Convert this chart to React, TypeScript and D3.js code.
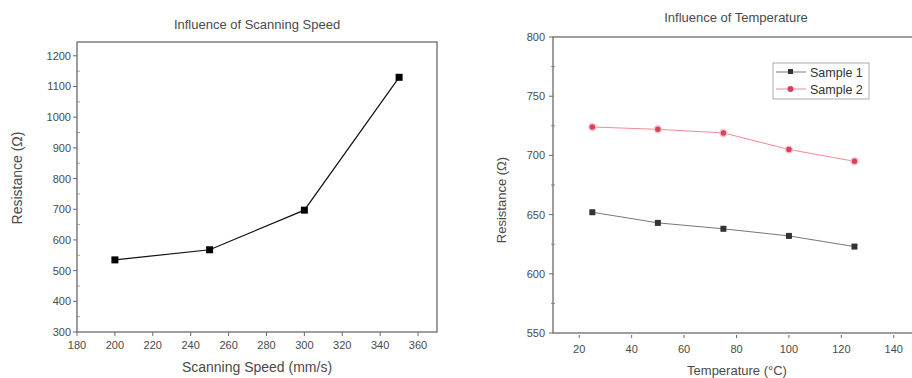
import React from "react";
import * as d3 from "d3";

// left panel: scanning speed
const speeds = [200, 250, 300, 350];
const speedResistance = [535, 568, 697, 1130];
const speedXTicks = [180, 200, 220, 240, 260, 280, 300, 320, 340, 360];
const speedYTicks = [300, 400, 500, 600, 700, 800, 900, 1000, 1100, 1200];

// right panel: temperature
const temps = [25, 50, 75, 100, 125];
const sample1 = [652, 643, 638, 632, 623];
const sample2 = [724, 722, 719, 705, 695];
const tempXTicks = [20, 40, 60, 80, 100, 120, 140];
const tempYTicks = [550, 600, 650, 700, 750, 800];
const tempYMinor = [575, 625, 675, 725, 775];
const seriesNames = ["Sample 1", "Sample 2"];

const font = "'Liberation Sans', Arial, sans-serif";
const axisColor = "#6a6a6a";
const textColor = "#4a4a4a";

const SpeedPanel = () => {
  const x = d3.scaleLinear().domain([180, 370]).range([77, 437]);
  const y = d3.scaleLinear().domain([300, 1245]).range([332, 42]);
  const line = d3
    .line<number>()
    .x((d, i) => x(speeds[i]))
    .y((d) => y(d));

  return (
    <g>
      <text x={257} y={29} textAnchor="middle" fontSize={13} fill={textColor}>
        Influence of Scanning Speed
      </text>
      <rect x={x(180)} y={y(1245)} width={x(370) - x(180)} height={y(300) - y(1245)}
        fill="none" stroke={axisColor} strokeWidth={1.3} />
      {speedYTicks.map((t) => (
        <g key={"y" + t}>
          <line x1={x(180) - 4} x2={x(180)} y1={y(t)} y2={y(t)} stroke={axisColor} />
          <text x={x(180) - 6} y={y(t) + 4} textAnchor="end" fontSize={11} fill={textColor}>
            {t}
          </text>
        </g>
      ))}
      {speedYTicks.slice(0, -1).map((t) => (
        <line key={"ym" + t} x1={x(180)} x2={x(180) + 3} y1={y(t + 50)} y2={y(t + 50)}
          stroke={axisColor} strokeWidth={0.6} />
      ))}
      {speedXTicks.map((t) => (
        <g key={"x" + t}>
          <line x1={x(t)} x2={x(t)} y1={y(300)} y2={y(300) + 4} stroke={axisColor} />
          <text x={x(t)} y={y(300) + 17} textAnchor="middle" fontSize={11} fill={textColor}>
            {t}
          </text>
        </g>
      ))}
      <text x={257} y={372} textAnchor="middle" fontSize={14} fill={textColor}>
        Scanning Speed (mm/s)
      </text>
      <text transform="translate(22,178) rotate(-90)" textAnchor="middle" fontSize={14}
        fill={textColor}>
        Resistance (Ω)
      </text>
      <path d={line(speedResistance) || ""} fill="none" stroke="#111" strokeWidth={1.2} />
      {speedResistance.map((v, i) => (
        <rect key={i} x={x(speeds[i]) - 3.5} y={y(v) - 3.5} width={7} height={7} fill="#000" />
      ))}
    </g>
  );
};

const TempPanel = () => {
  const x = d3.scaleLinear().domain([10, 150]).range([553, 920]);
  const y = d3.scaleLinear().domain([550, 800]).range([333, 37]);
  const line = d3
    .line<number>()
    .x((d, i) => x(temps[i]))
    .y((d) => y(d));
  const colors = ["#333333", "#d9405a"];
  const lineColors = ["#777777", "#f28a94"];
  const series = [sample1, sample2];

  return (
    <g>
      <text x={736} y={22} textAnchor="middle" fontSize={13} fill={textColor}>
        Influence of Temperature
      </text>
      <rect x={x(10)} y={y(800)} width={x(150) - x(10)} height={y(550) - y(800)}
        fill="none" stroke={axisColor} strokeWidth={1.3} />
      {tempYTicks.map((t) => (
        <g key={"y" + t}>
          <line x1={x(10) - 4} x2={x(10)} y1={y(t)} y2={y(t)} stroke={axisColor} />
          <text x={x(10) - 8} y={y(t) + 4} textAnchor="end" fontSize={11} fill={textColor}>
            {t}
          </text>
        </g>
      ))}
      {tempYMinor.map((t) => (
        <line key={"ym" + t} x1={x(10) - 2} x2={x(10) + 2} y1={y(t)} y2={y(t)}
          stroke={axisColor} strokeWidth={0.7} />
      ))}
      {tempXTicks.map((t) => (
        <g key={"x" + t}>
          <line x1={x(t)} x2={x(t)} y1={y(550) + 2} y2={y(550) + 5} stroke={axisColor} />
          <text x={x(t)} y={y(550) + 20} textAnchor="middle" fontSize={11} fill={textColor}>
            {t}
          </text>
        </g>
      ))}
      <text x={737} y={375} textAnchor="middle" fontSize={13} fill={textColor}>
        Temperature (°C)
      </text>
      <text transform="translate(506,200) rotate(-90)" textAnchor="middle" fontSize={13}
        fill={textColor}>
        Resistance (Ω)
      </text>
      {series.map((s, k) => (
        <g key={"s" + k}>
          <path d={line(s) || ""} fill="none" stroke={lineColors[k]} strokeWidth={1} />
          {s.map((v, i) =>
            k === 0 ? (
              <rect key={i} x={x(temps[i]) - 3} y={y(v) - 3} width={6} height={6} fill={colors[k]} />
            ) : (
              <circle key={i} cx={x(temps[i])} cy={y(v)} r={3.5} fill={colors[k]}
                stroke="#f7c6cc" strokeWidth={1.5} />
            )
          )}
        </g>
      ))}
      <rect x={773} y={63} width={96} height={36} fill="#fff" stroke="#888" strokeWidth={0.7} />
      {seriesNames.map((name, k) => (
        <g key={name}>
          <line x1={776} x2={806} y1={72 + k * 17} y2={72 + k * 17} stroke={lineColors[k]}
            strokeWidth={1} />
          {k === 0 ? (
            <rect x={788} y={69 + k * 17} width={5} height={5} fill={colors[k]} />
          ) : (
            <circle cx={790.5} cy={72 + k * 17} r={3} fill={colors[k]} />
          )}
          <text x={810} y={76.5 + k * 17} fontSize={12.5} fill="#333">
            {name}
          </text>
        </g>
      ))}
    </g>
  );
};

export default function App() {
  return (
    <svg width={912} height={378}
      style={{ position: "absolute", left: 0, top: 0, background: "#fff", fontFamily: font }}>
      <rect width={912} height={378} fill="#fff" />
      <SpeedPanel />
      <TempPanel />
    </svg>
  );
}
